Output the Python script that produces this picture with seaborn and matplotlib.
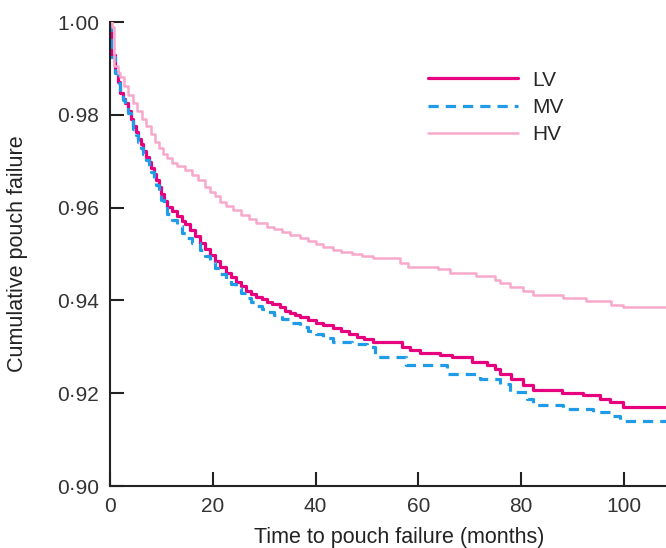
import matplotlib
matplotlib.use("Agg")
import matplotlib.pyplot as plt
from matplotlib.ticker import FuncFormatter
import seaborn as sns

# Kaplan-Meier style step curves (months, cumulative value)
lv_time = [0, 0.15, 1.0, 1.5, 2.0, 2.5, 3.0, 3.5, 4.0, 4.5, 5.0, 5.5, 6.0, 6.5, 7.0, 7.5,
           8.0, 8.5, 9.0, 9.5, 10.0, 10.5, 11.0, 12.0, 13.0, 14.0, 14.6, 15.5, 16.5, 17.5,
           18.5, 19.5, 20.5, 21.5, 22.5, 23.5, 24.5, 25.5, 26.5, 27.5, 28.5, 29.5, 30.5,
           31.5, 33, 34, 35, 36, 37, 38.5, 40, 41.5, 43.4, 45, 46.5, 48, 49.5, 51.2, 56.8,
           58.4, 60.3, 64.2, 66.5, 70.4, 73.3, 74.9, 75.9, 78.1, 80.4, 82.4, 87.9, 92.1,
           95.3, 97.3, 99.9, 110]
lv_surv = [1.000, 0.9929, 0.9893, 0.9870, 0.9846, 0.9835, 0.9826, 0.9808, 0.9790, 0.9775,
           0.9762, 0.9748, 0.9736, 0.9723, 0.9710, 0.9698, 0.9686, 0.9673, 0.9660, 0.9645,
           0.9630, 0.9615, 0.9602, 0.9592, 0.9582, 0.9572, 0.9565, 0.9552, 0.9538, 0.9524,
           0.9510, 0.9497, 0.9484, 0.9472, 0.9460, 0.9450, 0.9440, 0.9430, 0.9421, 0.9413,
           0.9407, 0.9402, 0.9397, 0.9392, 0.9385, 0.9378, 0.9372, 0.9368, 0.9364, 0.9358,
           0.9352, 0.9346, 0.9340, 0.9334, 0.9328, 0.9322, 0.9316, 0.9310, 0.9300, 0.9293,
           0.9287, 0.9282, 0.9277, 0.9268, 0.9261, 0.9252, 0.9241, 0.9230, 0.9218, 0.9207,
           0.9201, 0.9196, 0.9188, 0.9180, 0.9170, 0.9170]

mv_time = [0, 0.15, 1.0, 1.5, 2.0, 2.5, 3.0, 3.5, 4.0, 4.5, 5.0, 5.5, 6.0, 6.5, 7.0, 7.5,
           8.0, 8.5, 9.0, 9.5, 10.0, 10.5, 11.0, 12.0, 13.0, 14.0, 15.0, 16.0, 17.5, 18.5,
           19.5, 20.5, 21.5, 22.5, 23.5, 24.5, 25.5, 26.5, 27.5, 28.5, 29.5, 30.5, 32,
           33.5, 35, 37, 38.5, 40, 41.5, 43.4, 47, 50, 51.5, 57.7, 65.5, 72, 75.9, 77.8,
           81.1, 82.4, 88.2, 94, 97.3, 99.2, 110]
mv_surv = [1.000, 0.9925, 0.9890, 0.9868, 0.9843, 0.9832, 0.9822, 0.9804, 0.9786, 0.9770,
           0.9757, 0.9742, 0.9729, 0.9716, 0.9703, 0.9690, 0.9676, 0.9662, 0.9648, 0.9633,
           0.9617, 0.9600, 0.9586, 0.9573, 0.9560, 0.9546, 0.9535, 0.9523, 0.9509, 0.9495,
           0.9482, 0.9469, 0.9457, 0.9446, 0.9436, 0.9426, 0.9416, 0.9406, 0.9397, 0.9389,
           0.9382, 0.9376, 0.9368, 0.9360, 0.9352, 0.9343, 0.9335, 0.9328, 0.9320, 0.9311,
           0.9305, 0.9300, 0.9279, 0.9260, 0.9241, 0.9230, 0.9220, 0.9203, 0.9188, 0.9175,
           0.9167, 0.9160, 0.9150, 0.9141, 0.9141]

hv_time = [0, 0.3, 0.8, 1.5, 2.0, 2.8, 3.6, 4.5, 5.3, 6.2, 7.0, 7.9, 8.75, 9.5, 10.3, 11.0,
           12.0, 13.0, 14.6, 16.0, 17.2, 18.5, 19.5, 20.4, 21.5, 22.5, 24, 25.5, 27, 28.5,
           30.5, 32, 33.5, 35, 37, 38.5, 40, 41.5, 43.4, 45, 47, 49, 51.2, 56.4, 58.0,
           63.9, 66.1, 71.3, 75.0, 75.9, 77.8, 80.4, 82.4, 88.2, 92.7, 97.4, 99.9, 110]
hv_surv = [1.000, 0.9990, 0.9905, 0.9890, 0.9882, 0.9862, 0.9843, 0.9825, 0.9808, 0.9792,
           0.9776, 0.9759, 0.9742, 0.9728, 0.9715, 0.9706, 0.9697, 0.9690, 0.9681, 0.9670,
           0.9660, 0.9645, 0.9633, 0.9624, 0.9613, 0.9604, 0.9595, 0.9585, 0.9575, 0.9566,
           0.9559, 0.9554, 0.9548, 0.9541, 0.9534, 0.9528, 0.9522, 0.9515, 0.9509, 0.9505,
           0.9500, 0.9495, 0.9491, 0.9481, 0.9473, 0.9467, 0.9460, 0.9453, 0.9445, 0.9437,
           0.9428, 0.9421, 0.9412, 0.9405, 0.9399, 0.9391, 0.9385, 0.9385]

series = [
    ("LV", lv_time, lv_surv, "#e6007e", "-", 2.3),
    ("MV", mv_time, mv_surv, "#1f9be8", (0, (3.2, 2.2)), 2.3),
    ("HV", hv_time, hv_surv, "#f7a8cb", "-", 1.8),
]

sns.set_style("ticks")
plt.rcParams["font.family"] = ["Liberation Sans", "DejaVu Sans"]

fig = plt.figure(figsize=(6.66, 5.48), dpi=100)
ax = fig.add_axes([110 / 666, 62 / 548, 556 / 666, 464 / 548])

for name, t, s, color, ls, lw in series:
    sns.lineplot(x=t, y=s, ax=ax, color=color, linestyle=ls, linewidth=lw,
                 drawstyle="steps-post", label=name, estimator=None, sort=False)

ax.set_xlim(0, 108.2)
ax.set_ylim(0.90, 1.00)
ax.set_xticks([0, 20, 40, 60, 80, 100])
ax.set_yticks([0.90, 0.92, 0.94, 0.96, 0.98, 1.00])
ax.yaxis.set_major_formatter(FuncFormatter(lambda v, p: f"{v:.2f}".replace(".", "·")))

for side in ["top", "right"]:
    ax.spines[side].set_visible(False)
for side in ["left", "bottom"]:
    ax.spines[side].set_linewidth(1.5)
    ax.spines[side].set_color("#222222")

ax.tick_params(direction="in", length=10, width=1.5, labelsize=15, color="#222222",
               labelcolor="#333333")
ax.tick_params(axis="y", pad=8)
ax.tick_params(axis="x", pad=8)

ax.set_xlabel("Time to pouch failure (months)", fontsize=15.5, color="#222222")
ax.set_ylabel("Cumulative pouch failure", fontsize=15.5, color="#222222")
ax.xaxis.set_label_coords(0.52, -0.088)
ax.yaxis.set_label_coords(-0.148, 0.5)

ax.legend(loc="upper left", bbox_to_anchor=(0.572, 0.895), frameon=False, fontsize=15,
          handlelength=4.3, handletextpad=0.7, labelspacing=0.4, borderpad=0,
          borderaxespad=0)

fig.savefig("out.png", dpi=100)
